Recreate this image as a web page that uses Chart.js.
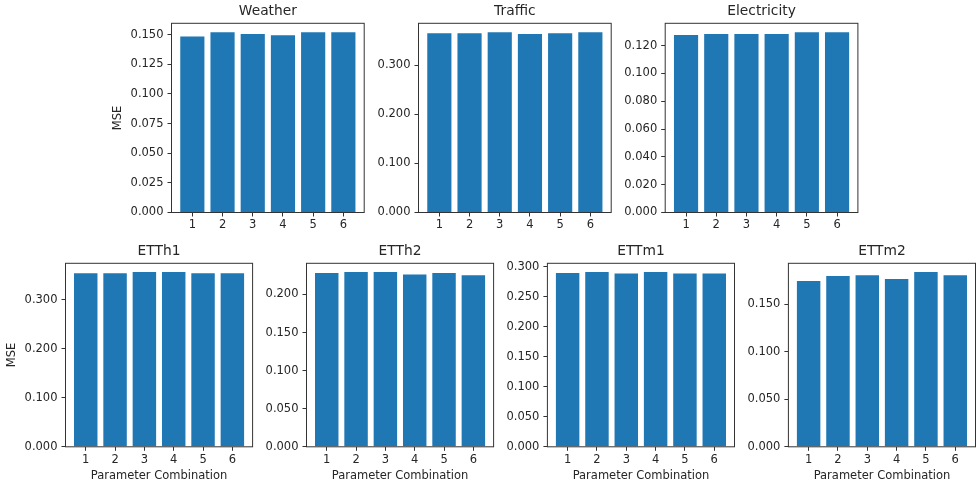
<!DOCTYPE html>
<html>
<head>
<meta charset="utf-8">
<script src="https://cdn.jsdelivr.net/npm/chart.js@4.4.1/dist/chart.umd.min.js"></script>
<style>
  html, body { margin: 0; padding: 0; background: #ffffff; }
  #fig { position: relative; width: 976px; height: 484px; overflow: hidden; background: #ffffff; }
  #fig canvas { position: absolute; left: 0; top: 0; }
</style>
</head>
<body>
<div id="fig"></div>
<script>
// Parameter combinations on the x axis
const categories = ['1', '2', '3', '4', '5', '6'];

// MSE per parameter combination, one array per dataset
const weatherMse     = [0.1485, 0.1520, 0.1505, 0.1495, 0.1520, 0.1520];
const trafficMse     = [0.3646, 0.3646, 0.3667, 0.3633, 0.3646, 0.3667];
const electricityMse = [0.1275, 0.1283, 0.1283, 0.1283, 0.1295, 0.1295];
const etth1Mse       = [0.3537, 0.3537, 0.3560, 0.3560, 0.3537, 0.3537];
const etth2Mse       = [0.2283, 0.2295, 0.2295, 0.2262, 0.2283, 0.2252];
const ettm1Mse       = [0.2900, 0.2915, 0.2890, 0.2915, 0.2890, 0.2890];
const ettm2Mse       = [0.1748, 0.1800, 0.1807, 0.1768, 0.1842, 0.1807];

// y tick values per subplot
const weatherTicks     = [0, 0.025, 0.05, 0.075, 0.1, 0.125, 0.15];
const trafficTicks     = [0, 0.1, 0.2, 0.3];
const electricityTicks = [0, 0.02, 0.04, 0.06, 0.08, 0.1, 0.12];
const etth1Ticks       = [0, 0.1, 0.2, 0.3];
const etth2Ticks       = [0, 0.05, 0.1, 0.15, 0.2];
const ettm1Ticks       = [0, 0.05, 0.1, 0.15, 0.2, 0.25, 0.3];
const ettm2Ticks       = [0, 0.05, 0.1, 0.15];

// Styling
const FIG_W = 976, FIG_H = 484;
const BLUE = '#1f77b4';
const INK = '#262626';
const SPINE = '#333333';
const FONT = "'DejaVu Sans', 'Liberation Sans', sans-serif";
const TITLE_SIZE = 13.8, TICK_SIZE = 11.5, LABEL_SIZE = 11.5;
const Y_AXIS_W = 60;          // room left of each plot for ticks and the MSE label
const TITLE_PAD_BOTTOM = 3.3; // gap under each subplot title

// Subplot rows: top edge, height and width of each plot area in page pixels
const TOP_ROW = { top: 23.3, height: 189.2, width: 192.7 };
const BOTTOM_ROW = { top: 263.3, height: 183.5, width: 187.1 };

const panels = [
  { title: 'Weather',     values: weatherMse,     ticks: weatherTicks,     left: 171.5, row: TOP_ROW,    yLabel: true,  xLabel: false },
  { title: 'Traffic',     values: trafficMse,     ticks: trafficTicks,     left: 418.5, row: TOP_ROW,    yLabel: false, xLabel: false },
  { title: 'Electricity', values: electricityMse, ticks: electricityTicks, left: 665.2, row: TOP_ROW,    yLabel: false, xLabel: false },
  { title: 'ETTh1',       values: etth1Mse,       ticks: etth1Ticks,       left: 65.5,  row: BOTTOM_ROW, yLabel: true,  xLabel: true },
  { title: 'ETTh2',       values: etth2Mse,       ticks: etth2Ticks,       left: 306.5, row: BOTTOM_ROW, yLabel: false, xLabel: true },
  { title: 'ETTm1',       values: ettm1Mse,       ticks: ettm1Ticks,       left: 547.4, row: BOTTOM_ROW, yLabel: false, xLabel: true },
  { title: 'ETTm2',       values: ettm2Mse,       ticks: ettm2Ticks,       left: 788.4, row: BOTTOM_ROW, yLabel: false, xLabel: true },
];

// Four-sided frame around each plot area
const frameBox = {
  id: 'frameBox',
  afterDraw(chart) {
    const { ctx, chartArea: a } = chart;
    ctx.save();
    ctx.strokeStyle = SPINE;
    ctx.lineWidth = 1;
    ctx.strokeRect(a.left, a.top, a.right - a.left, a.bottom - a.top);
    ctx.restore();
  }
};

const fig = document.getElementById('fig');

panels.forEach(p => {
  const canvas = document.createElement('canvas');
  canvas.width = FIG_W;
  canvas.height = FIG_H;
  fig.appendChild(canvas);

  const titleH = TITLE_SIZE * 1.2 + TITLE_PAD_BOTTOM;
  const xAxisH = p.xLabel ? 36 : 22;
  const top = p.row.top, h = p.row.height, w = p.row.width;

  // x range with 5% margins around the bars (bar width 0.8)
  const lo = 1 - 0.4, hi = categories.length + 0.4;
  const margin = 0.05 * (hi - lo);
  const yTop = Math.max(...p.values) * 1.05;

  new Chart(canvas, {
    type: 'bar',
    data: {
      datasets: [{
        data: p.values.map((v, i) => ({ x: i + 1, y: v })),
        backgroundColor: BLUE,
        borderWidth: 0,
        categoryPercentage: 1.0,
        barPercentage: 0.8
      }]
    },
    options: {
      responsive: false,
      animation: false,
      events: [],
      layout: {
        padding: {
          left: p.left - Y_AXIS_W,
          top: top - titleH,
          right: FIG_W - (p.left + w),
          bottom: FIG_H - (top + h + xAxisH)
        }
      },
      plugins: {
        legend: { display: false },
        tooltip: { enabled: false },
        title: {
          display: true,
          text: p.title,
          fullSize: false,
          color: INK,
          font: { family: FONT, size: TITLE_SIZE, weight: 'normal', lineHeight: 1.2 },
          padding: { top: 0, bottom: TITLE_PAD_BOTTOM }
        }
      },
      scales: {
        x: {
          type: 'linear',
          offset: false,
          min: lo - margin,
          max: hi + margin,
          afterBuildTicks: axis => { axis.ticks = categories.map((c, i) => ({ value: i + 1 })); },
          afterFit: axis => { axis.height = xAxisH; },
          border: { display: false },
          grid: { display: true, offset: false, drawOnChartArea: false, drawTicks: true, tickLength: 4, color: SPINE, lineWidth: 1 },
          ticks: {
            padding: 2,
            maxRotation: 0,
            autoSkip: false,
            color: INK,
            font: { family: FONT, size: TICK_SIZE, lineHeight: 1.2 },
            callback: v => categories[v - 1]
          },
          title: {
            display: p.xLabel,
            text: 'Parameter Combination',
            color: INK,
            font: { family: FONT, size: LABEL_SIZE, lineHeight: 1.2 },
            padding: { top: 0, bottom: 0 }
          }
        },
        y: {
          type: 'linear',
          min: 0,
          max: yTop,
          afterBuildTicks: axis => { axis.ticks = p.ticks.map(v => ({ value: v })); },
          afterFit: axis => { axis.width = Y_AXIS_W; },
          border: { display: false },
          grid: { display: true, drawOnChartArea: false, drawTicks: true, tickLength: 4, color: SPINE, lineWidth: 1 },
          ticks: {
            padding: 4,
            color: INK,
            font: { family: FONT, size: TICK_SIZE, lineHeight: 1.2 },
            callback: v => Number(v).toFixed(3)
          },
          title: {
            display: p.yLabel,
            text: 'MSE',
            color: INK,
            font: { family: FONT, size: LABEL_SIZE, lineHeight: 1.2 },
            padding: { top: 0, bottom: 0 }
          }
        }
      }
    },
    plugins: [frameBox]
  });
});
</script>
</body>
</html>
